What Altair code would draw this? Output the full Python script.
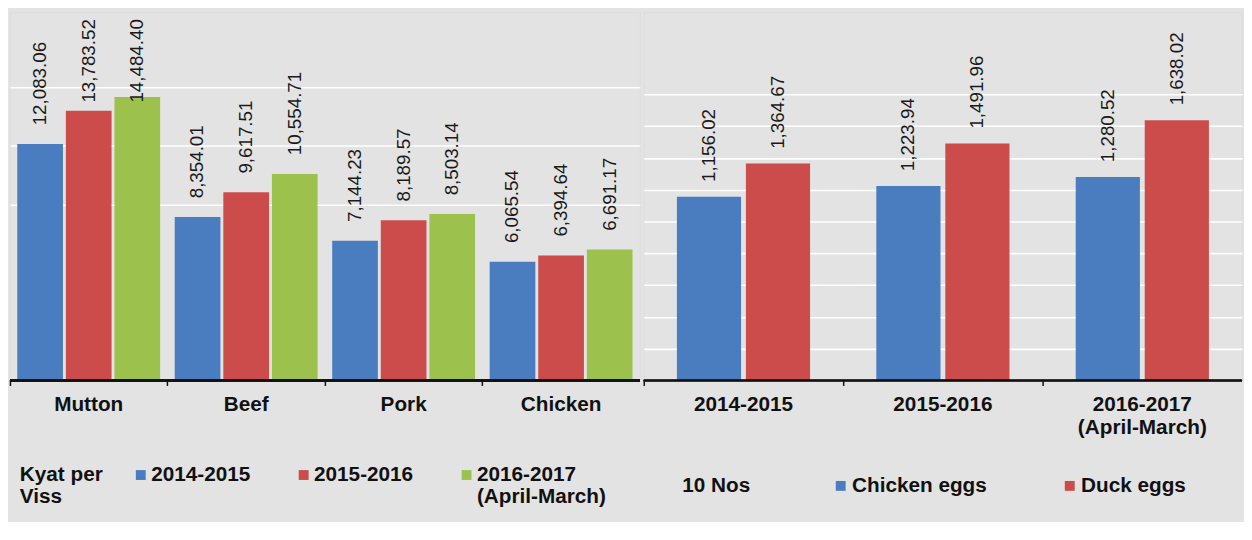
import altair as alt
import pandas as pd

# ---------------- data ----------------
meat = ["Mutton", "Beef", "Pork", "Chicken"]
meat_years = ["2014-2015", "2015-2016", "2016-2017|(April-March)"]
price_2014_2015 = [12083.06, 8354.01, 7144.23, 6065.54]
price_2015_2016 = [13783.52, 9617.51, 8189.57, 6394.64]
price_2016_2017 = [14484.40, 10554.71, 8503.14, 6691.17]

egg_years = ["2014-2015", "2015-2016", "2016-2017|(April-March)"]
egg_types = ["Chicken eggs", "Duck eggs"]
chicken_eggs = [1156.02, 1223.94, 1280.52]
duck_eggs = [1364.67, 1491.96, 1638.02]

meat_grid = [9000, 12000, 15000]
egg_grid = [200, 400, 600, 800, 1000, 1200, 1400, 1600, 1800]

meat_colors = ["#4a7dbf", "#cc4b4b", "#9cc24d"]
egg_colors = ["#4a7dbf", "#cc4b4b"]

FONT = "Liberation Sans"
INK = "#111111"
BG = "#e3e3e3"

meat_rows = []
for yr, vals in zip(meat_years, [price_2014_2015, price_2015_2016, price_2016_2017]):
    for it, v in zip(meat, vals):
        meat_rows.append({"item": it, "year": yr, "value": v})
meat_df = pd.DataFrame(meat_rows)

egg_rows = []
for tp, vals in zip(egg_types, [chicken_eggs, duck_eggs]):
    for yr, v in zip(egg_years, vals):
        egg_rows.append({"year": yr, "type": tp, "value": v})
egg_df = pd.DataFrame(egg_rows)


def x_axis():
    return alt.Axis(
        title=None, labelAngle=0, labelFont=FONT, labelFontSize=21, labelFontWeight="bold",
        labelColor=INK, labelPadding=8, labelLineHeight=24, labelLimit=0,
        labelExpr="split(datum.label, '|')", tickSize=5, tickColor=INK, tickWidth=1.5,
        bandPosition=0, domain=False, grid=False)


def y_axis(vals):
    return alt.Axis(values=vals, grid=True, gridColor="white", gridWidth=1.6,
                    labels=False, ticks=False, domain=False, title=None)


# every legend label gets two lines (second may be empty) so all entries line up
LEGEND_LABEL = "split(datum.label + (indexof(datum.label, '|') >= 0 ? '' : '|'), '|')"


def legend(title, lx, ly, tpad, cpad, loff):
    return alt.Legend(
        orient="none", legendX=lx, legendY=ly, direction="horizontal", padding=0,
        title=title, titleOrient="left", titleAlign="left", titleAnchor="start",
        titleBaseline="top", titleFont=FONT, titleFontSize=21, titleFontWeight="bold",
        titleColor=INK, titleLineHeight=22, titlePadding=tpad,
        labelFont=FONT, labelFontSize=21, labelFontWeight="bold", labelColor=INK,
        labelOffset=loff, labelLimit=0, labelBaseline="middle",
        labelExpr=LEGEND_LABEL,
        symbolType="square", symbolSize=100, symbolStrokeWidth=0, symbolOpacity=1,
        columnPadding=cpad)


# ---------------- left panel: meat ----------------
xl = alt.X("item:N", sort=meat, scale=alt.Scale(paddingInner=0, paddingOuter=0),
           axis=x_axis())
xol = alt.XOffset("year:N", sort=meat_years,
                  scale=alt.Scale(domain=meat_years, paddingInner=0.06, paddingOuter=0.15))
yscale_l = alt.Scale(domain=[0, 18819], nice=False, zero=True)

bars_l = alt.Chart(meat_df).mark_bar().encode(
    x=xl, xOffset=xol,
    y=alt.Y("value:Q", scale=yscale_l, axis=y_axis(meat_grid)),
    color=alt.Color("year:N", sort=meat_years,
                    scale=alt.Scale(domain=meat_years, range=meat_colors),
                    legend=legend(["Kyat per", "\u2002\u2002Viss"], 10, 458, 27, 43, 0)),
)
text_l = alt.Chart(meat_df).transform_calculate(
    label_y="min(datum.value, 13245)"
).mark_text(angle=270, align="left", baseline="middle", dx=19, fontSize=19,
            font=FONT, color="#1a1a1a").encode(
    x=xl, xOffset=xol,
    y=alt.Y("label_y:Q", scale=yscale_l, axis=y_axis(meat_grid)),
    text=alt.Text("value:Q", format=",.2f"),
)
base_l = alt.Chart(meat_df).mark_rule(color=INK, strokeWidth=1.5).encode(
    y=alt.datum(0, scale=yscale_l))
left = alt.layer(bars_l, text_l, base_l).properties(width=638, height=373)

# ---------------- right panel: eggs ----------------
xr = alt.X("year:N", sort=egg_years,
           scale=alt.Scale(paddingInner=0, paddingOuter=0),
           axis=x_axis())
xor = alt.XOffset("type:N", sort=egg_types,
                  scale=alt.Scale(domain=egg_types, paddingInner=0.07, paddingOuter=0.48))
yscale_r = alt.Scale(domain=[0, 2317], nice=False, zero=True)

bars_r = alt.Chart(egg_df).mark_bar().encode(
    x=xr, xOffset=xor,
    y=alt.Y("value:Q", scale=yscale_r, axis=y_axis(egg_grid)),
    color=alt.Color("type:N", sort=egg_types,
                    scale=alt.Scale(domain=egg_types, range=egg_colors),
                    legend=legend("10 Nos", 39, 469, 81, 73, 1)),
)
text_r = alt.Chart(egg_df).mark_text(angle=270, align="left", baseline="middle", dx=15,
                                      fontSize=19, font=FONT, color="#1a1a1a").encode(
    x=xr, xOffset=xor,
    y=alt.Y("value:Q", scale=yscale_r, axis=y_axis(egg_grid)),
    text=alt.Text("value:Q", format=",.2f"),
)
base_r = alt.Chart(egg_df).mark_rule(color=INK, strokeWidth=1.5).encode(
    y=alt.datum(0, scale=yscale_r))
right = alt.layer(bars_r, text_r, base_r).properties(width=606, height=373)

chart = alt.hconcat(left, right, spacing=0).resolve_scale(
    color="independent", x="independent", y="independent", xOffset="independent"
).resolve_legend(color="independent").properties(
    background=BG, padding={"left": 0, "top": 0, "right": 0, "bottom": 0}
).configure_view(strokeWidth=0).configure(style={"guide-label": {"lineHeight": 22}})

chart.save("out.html", embed_options={"renderer": "svg", "actions": False})
